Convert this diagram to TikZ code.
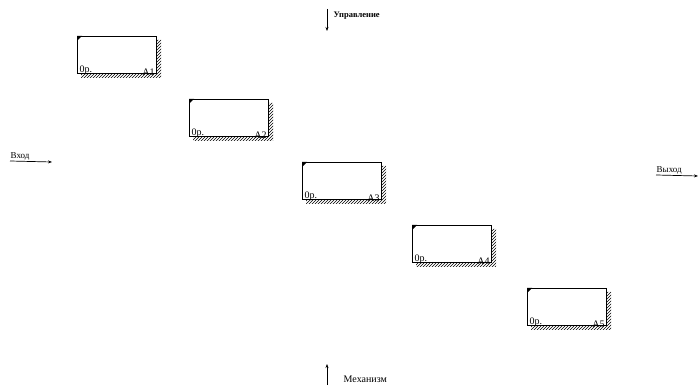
\documentclass[tikz,border=0pt]{standalone}
\usepackage{fontspec}
\setmainfont{Liberation Serif}
\usetikzlibrary{patterns,arrows.meta}
\begin{document}
\begin{tikzpicture}[x=1pt,y=-1pt,
  fnbox/.style={draw,line width=1.3pt,minimum width=79pt,minimum height=37pt,inner sep=0pt,fill=white},
  lbl/.style={font=\fontsize{9}{10}\selectfont,inner sep=0.5pt},
  boxlbl/.style={font=\fontsize{10}{11}\selectfont,inner sep=0.5pt},
  arr/.style={-{Stealth[length=4pt,width=3pt]},line width=0.8pt}]
\useasboundingbox (0,0) rectangle (699,387);
\foreach \i/\x/\y in {1/77/36, 2/189/99, 3/302/162, 4/412/225, 5/527/288}{
  % shadow
  \fill[pattern=north east lines] (\x+79,\y+4) -- (\x+84,\y+4) -- (\x+84,\y+42) -- (\x+4,\y+42) -- (\x+4,\y+37) -- (\x+79,\y+37) -- cycle;
  \node[fnbox,anchor=north west] (b\i) at (\x,\y) {};
  \fill (b\i.north west) -- ++(5,0) -- ++(-5,5) -- cycle;
  \node[boxlbl,anchor=south west] (p\i) at ([xshift=2pt,yshift=-1.5pt]b\i.south west) {0р.};
  \node[boxlbl,anchor=south east] (n\i) at ([xshift=-2pt,yshift=-1.5pt]b\i.south east) {A\i};
}
% Control
\node[lbl,anchor=west,font=\bfseries\fontsize{8.5}{10}\selectfont] (ctl) at (333,16) {Управление};
\coordinate (ctop) at (327,9);
\coordinate (cbot) at (327,31);
\draw[arr] (ctop) -- (cbot);
% Mechanism
\node[lbl,anchor=west,font=\fontsize{10}{11}\selectfont] (mech) at (343,379) {Механизм};
\coordinate (mbot) at (327,385);
\coordinate (mtop) at (327,364);
\draw[arr] (mbot) -- (mtop);
% Input
\node[lbl,anchor=south west] (inp) at (10,161) {Вход};
\coordinate (inend) at (52,162);
\draw[arr,line width=0.7pt] (inp.south west) -- (inend);
% Output
\node[lbl,anchor=south west] (outp) at (656,175) {Выход};
\coordinate (outend) at (698,176);
\draw[arr,line width=0.7pt] (outp.south west) -- (outend);
\end{tikzpicture}
\end{document}
